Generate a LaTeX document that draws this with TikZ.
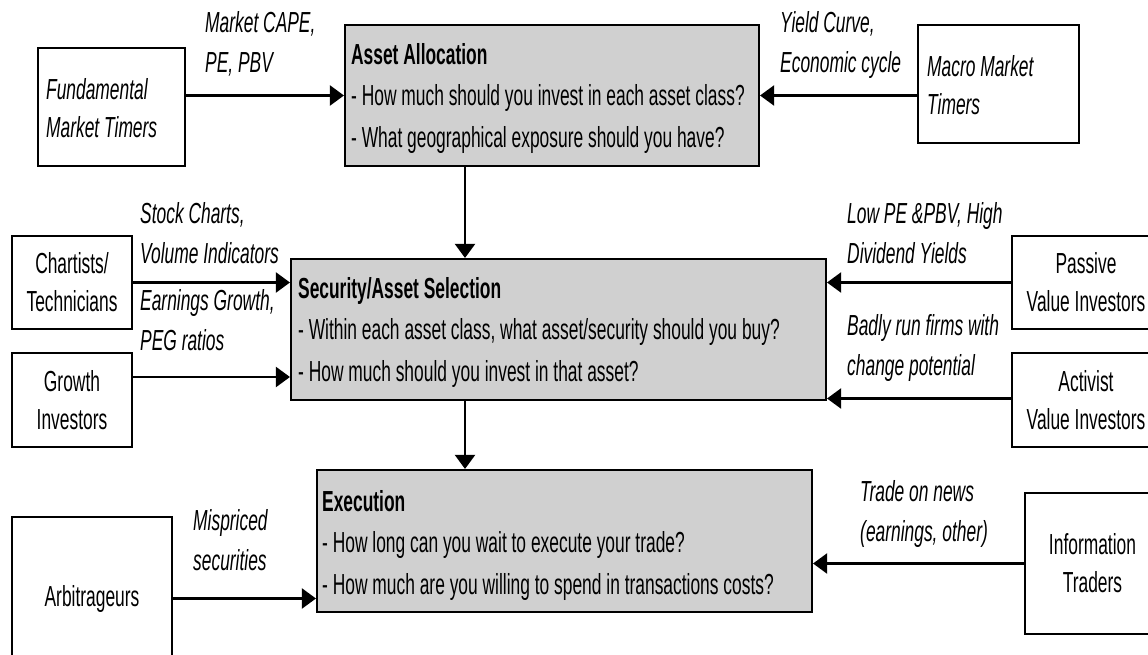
\documentclass[tikz,border=0pt]{standalone}
\usepackage{fontspec}
\setmainfont[FakeStretch=0.6]{Liberation Sans}
\usetikzlibrary{arrows.meta}
\definecolor{boxgray}{RGB}{208,208,208}
\newcommand\dfs{\fontsize{29}{38}\selectfont}
\newcommand\dfq{\fontsize{29}{41.5}\selectfont}
\newcommand\dfl{\fontsize{29}{40}\selectfont}
\begin{document}
\begin{tikzpicture}[x=1pt,y=-1pt,
  box/.style={draw,line width=2.1pt,rectangle,inner sep=0pt},
  grayq/.style={box,fill=boxgray},
  qtext/.style={align=left,anchor=west,inner sep=0pt,font=\dfq},
  actor/.style={box,fill=white,align=center,font=\dfs},
  timer/.style={box,fill=white},
  ttext/.style={align=left,anchor=west,inner sep=0pt,font=\dfs\itshape},
  lbl/.style={align=left,anchor=west,inner sep=0pt,font=\dfl\itshape},
  arr/.style={line width=2.1pt,-{Triangle[length=14pt,width=20pt]}},
]
\clip (0,0) rectangle (1148,655);
\fill[white] (0,0) rectangle (1148,655);

% main boxes
\node[grayq, minimum width=414pt, minimum height=141pt] (aa) at (552,95.5) {};
\node[qtext] (aat) at ([xshift=7pt,yshift=-3pt]aa.west)
  {\textbf{Asset Allocation}\\- How much should you invest in each asset class?\\- What geographical exposure should you have?};
\node[grayq, minimum width=535pt, minimum height=141pt] (sas) at (558.5,329.5) {};
\node[qtext] (sast) at ([xshift=8pt,yshift=-3pt]sas.west)
  {\textbf{Security/Asset Selection}\\- Within each asset class, what asset/security should you buy?\\- How much should you invest in that asset?};
\node[grayq, minimum width=495pt, minimum height=142pt] (exec) at (564.5,541) {};
\node[qtext] (exect) at ([xshift=6pt,yshift=-4pt]exec.west)
  {\textbf{Execution}\\- How long can you wait to execute your trade?\\- How much are you willing to spend in transactions costs?};

% actor boxes
\node[timer, minimum width=147pt, minimum height=118pt] (fmt) at (111.5,107) {};
\node[ttext] (fmtt) at ([xshift=9pt,yshift=-1.5pt]fmt.west) {Fundamental\\Market Timers};
\node[timer, minimum width=161pt, minimum height=118pt] (mmt) at (998.5,84) {};
\node[ttext] (mmtt) at ([xshift=10pt,yshift=-1pt]mmt.west) {Macro Market\\Timers};
\node[actor, minimum width=120pt, minimum height=93pt] (chart) at (72,282.5) {Chartists/\\Technicians};
\node[actor, minimum width=120pt, minimum height=94pt] (growth) at (72,400) {Growth\\Investors};
\node[actor, minimum width=148pt, minimum height=93pt] (passive) at (1086,282.5) {Passive\\Value Investors};
\node[actor, minimum width=148pt, minimum height=94pt] (activist) at (1086,400) {Activist\\Value Investors};
\node[actor, minimum width=160pt, minimum height=163pt] (arb) at (92,598.5) {Arbitrageurs};
\node[actor, minimum width=135pt, minimum height=141pt] (info) at (1092.5,563.5) {Information\\Traders};

% helper coordinates
\coordinate (vx) at (465,0);
\coordinate (gy) at (0,377);
\coordinate (ay) at (0,398.5);

% connectors
\draw[arr] (fmt.east |- aa.west) -- (aa.west);
\draw[arr] (mmt.west |- aa.east) -- (aa.east);
\draw[arr] (aa.south -| vx) -- (sas.north -| vx);
\draw[arr] (sas.south -| vx) -- (exec.north -| vx);
\draw[arr] (chart.east) -- (chart.east -| sas.west);
\draw[arr] (growth.east |- gy) -- (sas.west |- gy);
\draw[arr] (passive.west) -- (passive.west -| sas.east);
\draw[arr] (activist.west |- ay) -- (sas.east |- ay);
\draw[arr] (arb.east) -- (arb.east -| exec.west);
\draw[arr] (info.west) -- (info.west -| exec.east);

% labels
\node[lbl] (lcape) at (205,44) {Market CAPE,\\PE, PBV};
\node[lbl] (lyield) at (780,45) {Yield Curve,\\Economic cycle};
\node[lbl] (lstock) at (140,233) {Stock Charts,\\Volume Indicators};
\node[lbl] (learn) at (140,320) {Earnings Growth,\\PEG ratios};
\node[lbl] (llow) at (847,233) {Low PE \&PBV, High\\Dividend Yields};
\node[lbl] (lbad) at (847,348) {Badly run firms with\\change potential};
\node[lbl] (lmis) at (193,540) {Mispriced\\securities};
\node[lbl] (ltrade) at (860,514) {Trade on news\\(earnings, other)};
\end{tikzpicture}
\end{document}
